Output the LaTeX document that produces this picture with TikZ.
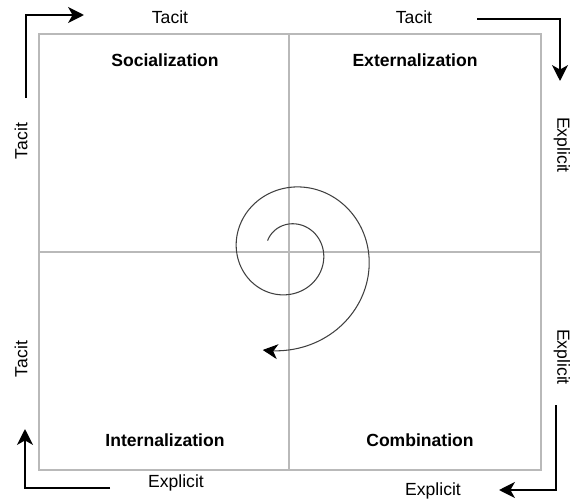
\documentclass[tikz,border=0pt]{standalone}
\usepackage{fontspec}
\setmainfont{Liberation Sans}
\usetikzlibrary{positioning}
\usetikzlibrary{arrows.meta}
\tikzset{
  quad/.style={font=\bfseries},
  frame/.style={draw=gray!55, line width=0.8pt},
  cycle arrow/.style={line width=1.4pt, -{Stealth[length=9pt,width=9pt,inset=2.5pt]}},
  spiral/.style={draw=black!75, line width=0.6pt, -{Stealth[length=8.5pt,width=8.5pt,inset=2.5pt,black]}},
}

\begin{document}
\begin{tikzpicture}[x=0.02cm,y=-0.02cm]
\useasboundingbox (0,0) rectangle (575,500);
% the four quadrants
\draw[frame] (39,34) rectangle (541,470);
\draw[frame] (289,34) -- (289,470);
\draw[frame] (39,252) -- (541,252);
\node[quad] (soc) at (165,60) {Socialization};
\node[quad] (ext) at (415,60) {Externalization};
\node[quad] (int) at (165,440) {Internalization};
\node[quad] (com) at (420,440) {Combination};
% side labels
\node (tacA) at (170,17) {Tacit};
\node (tacB) at (414,17) {Tacit};
\node[rotate=-90] (expA) at (562,145) {Explicit};
\node[rotate=-90] (expB) at (562,357) {Explicit};
\node (expC) at (433,491) {Explicit};
\node (expD) at (176,483) {Explicit};
\node[rotate=90] (tacC) at (21,359) {Tacit};
\node[rotate=90] (tacD) at (21,141) {Tacit};
% corner arrows
\coordinate (tl1) at (26,98);
\coordinate (tl2) at (26,15);
\coordinate (tl3) at (84,15);
\draw[cycle arrow] (tl1) -- (tl2) -- (tl3);
\coordinate (tr1) at (477,19);
\coordinate (tr2) at (560,19);
\coordinate (tr3) at (560,81);
\draw[cycle arrow] (tr1) -- (tr2) -- (tr3);
\coordinate (br1) at (556,405);
\coordinate (br2) at (556,490);
\coordinate (br3) at (499,490);
\draw[cycle arrow] (br1) -- (br2) -- (br3);
\coordinate (bl1) at (110,488);
\coordinate (bl2) at (25,488);
\coordinate (bl3) at (25,429);
\draw[cycle arrow] (bl1) -- (bl2) -- (bl3);
% knowledge spiral
\draw[spiral] plot[domain=152:-465, samples=240, smooth]
  ({289+28*exp(0.00232*(90-\x))*cos(\x)}, {252-28*exp(0.00232*(90-\x))*sin(\x)});
\end{tikzpicture}
\end{document}
